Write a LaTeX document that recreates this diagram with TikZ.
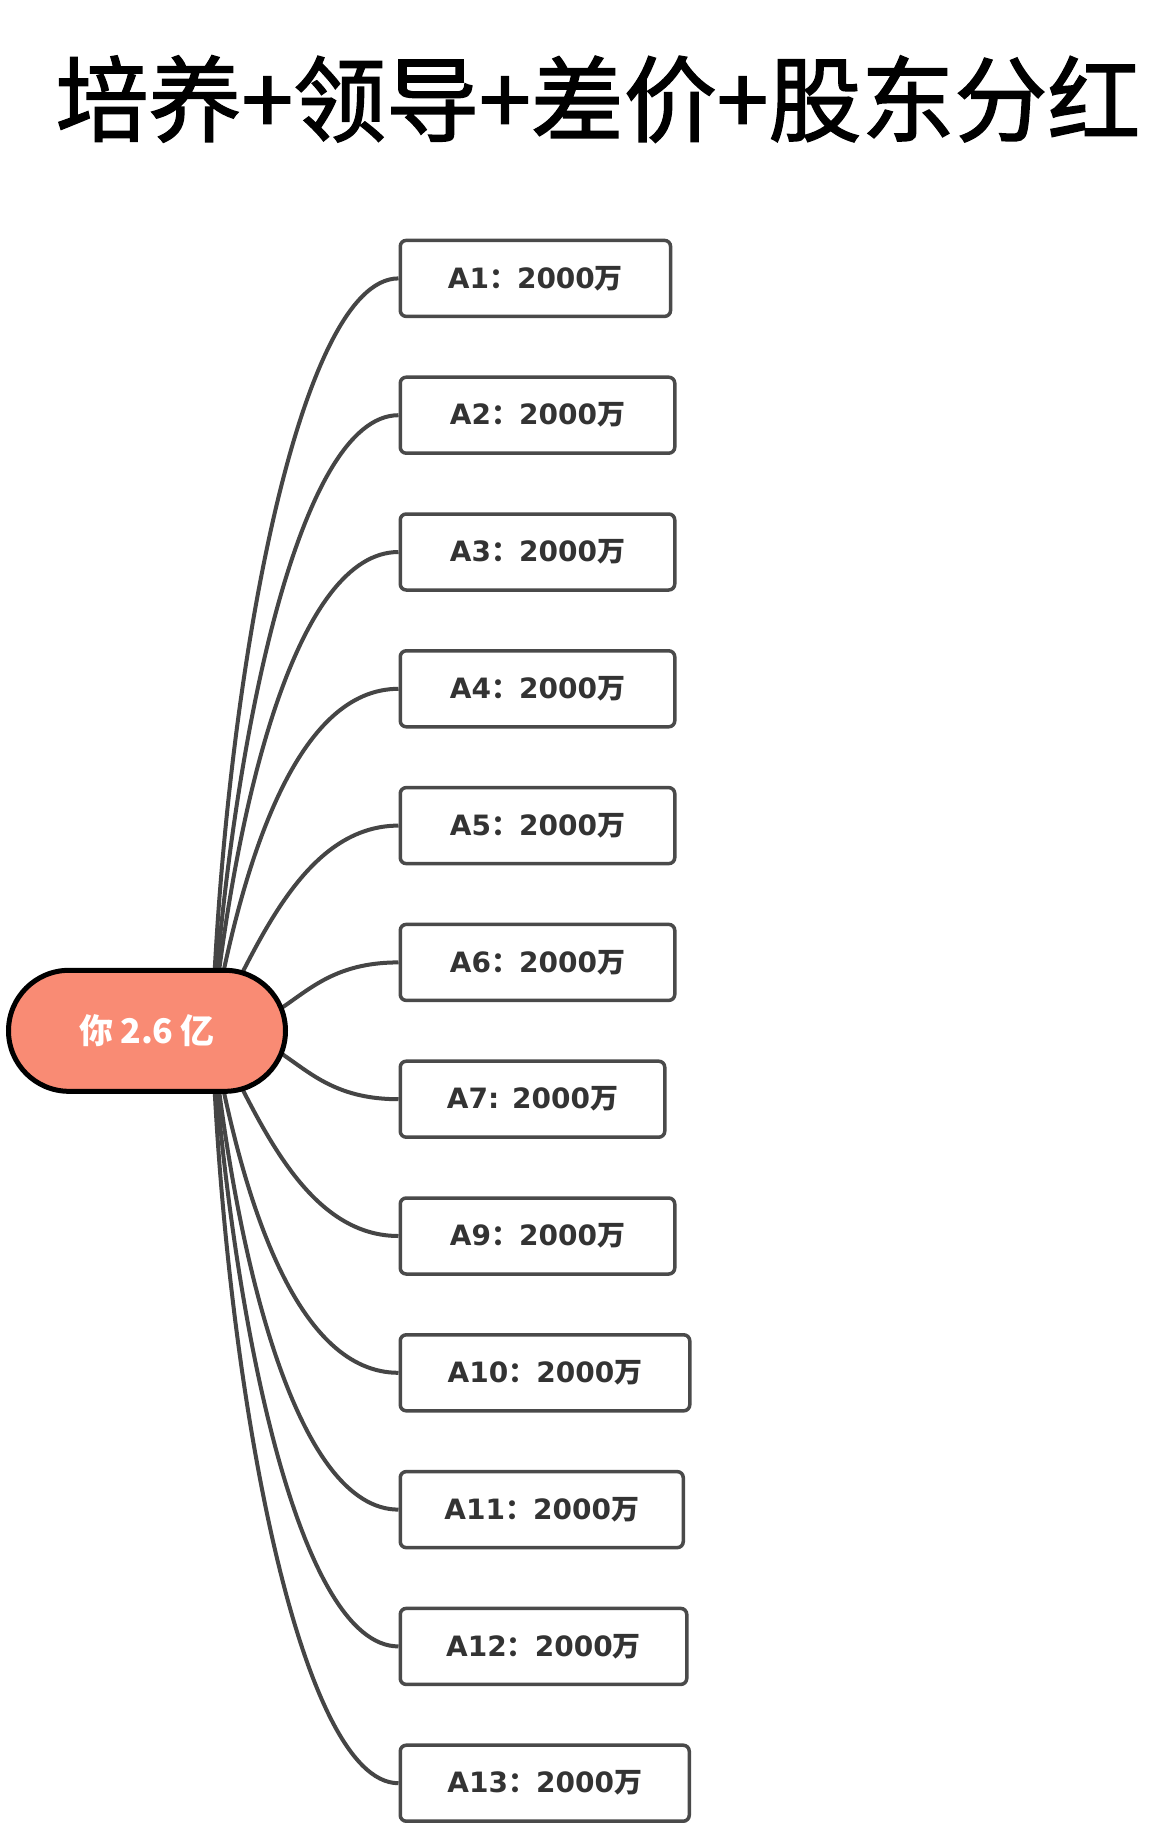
\documentclass[tikz,border=0pt]{standalone}
\usepackage{fontspec}
\newfontfamily\cjk{Noto Sans CJK SC}
\newfontfamily\cjkm{Noto Sans CJK SC}[FakeBold=1.6]
\newfontfamily\latb{DejaVu Sans}
\definecolor{linec}{HTML}{454545}
\definecolor{boxc}{HTML}{4A4A4A}
\definecolor{txtc}{HTML}{333333}
\definecolor{salmon}{RGB}{249,139,116}
\newcommand\amt[1]{{\latb\bfseries #1}{\cjk\bfseries ：}{\latb\bfseries 2000}{\cjk\bfseries 万}}
\begin{document}
\begin{tikzpicture}[x=1pt,y=-1pt,
  leaf/.style={draw=boxc, line width=3.5pt, fill=white, rounded corners=6pt,
    minimum height=76pt, inner sep=0pt, anchor=west, text=txtc,
    font=\fontsize{28}{30}\selectfont},
  link/.style={draw=linec, line width=4pt},
  rootnode/.style={draw=black, line width=5pt, fill=salmon, rounded corners=60.5pt,
    minimum width=277pt, minimum height=121pt, inner sep=0pt, text=white,
    font=\cjk\bfseries\fontsize{34}{36}\selectfont},
  titlenode/.style={font=\cjkm\fontsize{93}{100}\selectfont, inner sep=0pt}]
\useasboundingbox[fill=white] (0,0) rectangle (1170,1842);
\node[titlenode] (title) at (598,99) {培养+领导+差价+股东分红};
\coordinate (s) at (212,1030.8);
\node[leaf, minimum width=270.3pt] (a1) at (398.5,278.4) {\amt{A1}};
\node[leaf, minimum width=274.5pt] (a2) at (398.5,415.2) {\amt{A2}};
\node[leaf, minimum width=274.5pt] (a3) at (398.5,552.0) {\amt{A3}};
\node[leaf, minimum width=274.5pt] (a4) at (398.5,688.8) {\amt{A4}};
\node[leaf, minimum width=274.5pt] (a5) at (398.5,825.6) {\amt{A5}};
\node[leaf, minimum width=274.5pt] (a6) at (398.5,962.4) {\amt{A6}};
\node[leaf, minimum width=264.5pt] (a7) at (398.5,1099.2) {{\latb\bfseries A7: 2000}{\cjk\bfseries 万}};
\node[leaf, minimum width=274.5pt] (a9) at (398.5,1236.0) {\amt{A9}};
\node[leaf, minimum width=289.5pt] (a10) at (398.5,1372.8) {\amt{A10}};
\node[leaf, minimum width=283pt] (a11) at (398.5,1509.6) {\amt{A11}};
\node[leaf, minimum width=286.5pt] (a12) at (398.5,1646.4) {\amt{A12}};
\node[leaf, minimum width=289pt] (a13) at (398.5,1783.2) {\amt{A13}};
\foreach \n/\ang/\len in {a1/-88/350, a2/-86/290, a3/-84/240, a4/-80/180, a5/-60/80, a6/0/80,
  a7/0/80, a9/60/80, a10/80/180, a11/84/240, a12/86/290, a13/88/350}
  \draw[link] (s) .. controls +(\ang:\len) and +(-100,0) .. (\n.west);
\node[rootnode] (c) at (147,1030.8) {你\hspace{7pt}2.6\hspace{7pt}亿};
\end{tikzpicture}
\end{document}
